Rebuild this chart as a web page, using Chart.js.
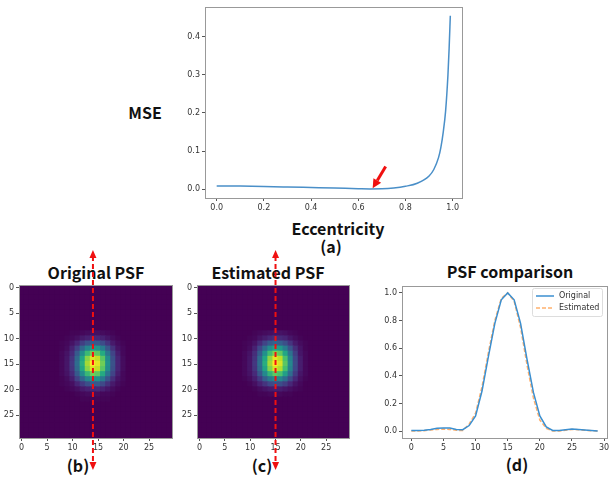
<!DOCTYPE html>
<html>
<head>
<meta charset="utf-8">
<script src="https://cdn.jsdelivr.net/npm/chart.js@4.4.0/dist/chart.umd.min.js"></script>
<style>
body { margin: 0; background: #fff; width: 613px; height: 479px; position: relative; overflow: hidden; font-family: "Noto Sans CJK KR", "Noto Sans", sans-serif; }
canvas { position: absolute; z-index: 1; }
.lbl { position: absolute; transform: translate(-50%, -50%); font-weight: 700; font-size: 16px; color: #111; white-space: nowrap; line-height: 1; z-index: 0; }
</style>
</head>
<body>
<div class="lbl" style="left:145px;top:112px">MSE</div>
<div class="lbl" style="left:338px;top:228px">Eccentricity</div>
<div class="lbl" style="left:331px;top:246px">(a)</div>
<div class="lbl" style="left:96px;top:272px">Original PSF</div>
<div class="lbl" style="left:268px;top:272px">Estimated PSF</div>
<div class="lbl" style="left:510px;top:271px">PSF comparison</div>
<div class="lbl" style="left:78px;top:465px">(b)</div>
<div class="lbl" style="left:262px;top:465px">(c)</div>
<div class="lbl" style="left:517px;top:464px">(d)</div>

<canvas id="chartA" style="left:170px;top:0px" width="300" height="215"></canvas>
<canvas id="chartB" style="left:0px;top:245px" width="185" height="232"></canvas>
<canvas id="chartC" style="left:180px;top:245px" width="180" height="232"></canvas>
<canvas id="chartD" style="left:375px;top:245px" width="238" height="232"></canvas>

<script>
// (a) MSE vs eccentricity
const eccentricity = [0, 0.1, 0.2, 0.3, 0.4, 0.5, 0.6, 0.65, 0.7, 0.75, 0.8, 0.85, 0.9, 0.92, 0.94, 0.95, 0.96, 0.97, 0.98, 0.985, 0.99];
const mse = [0.009, 0.0085, 0.0075, 0.0062, 0.0048, 0.0034, 0.0018, 0.0012, 0.0015, 0.0035, 0.008, 0.016, 0.035, 0.052, 0.083, 0.11, 0.15, 0.205, 0.30, 0.37, 0.455];
const arrowFrom = [0.716, 0.060], arrowTo = [0.661, 0.003];
const eccTicks = [0, 0.2, 0.4, 0.6, 0.8, 1.0];
const mseTicks = [0, 0.1, 0.2, 0.3, 0.4];

// (d) vertical profile through the PSF
const pixelIndex = [0,1,2,3,4,5,6,7,8,9,10,11,12,13,14,15,16,17,18,19,20,21,22,23,24,25,26,27,28,29];
const profileOriginal = [0.005,0.004,0.006,0.012,0.02,0.022,0.022,0.012,0.01,0.04,0.11,0.29,0.54,0.78,0.95,1.0,0.95,0.78,0.52,0.28,0.11,0.03,0.005,0.005,0.01,0.015,0.012,0.008,0.004,0.0];
const profileEstimated = [0.0,0.0,0.003,0.008,0.012,0.015,0.012,0.006,0.004,0.05,0.13,0.32,0.57,0.8,0.96,1.0,0.94,0.75,0.48,0.24,0.08,0.02,0.0,0.0,0.006,0.012,0.01,0.006,0.003,0.0];
const profTicksX = [0, 5, 10, 15, 20, 25, 30];
const profTicksY = [0, 0.2, 0.4, 0.6, 0.8, 1.0];

// (b),(c) 30x30 PSF images, only the central block is non-zero (values in %)
const psfTicks = [0, 5, 10, 15, 20, 25];
const origRow0 = 9, origCol0 = 8;
const psfOriginal = [
  [0,0,1,1,2,3,4,4,3,2,1,0,0],
  [0,1,2,4,7,9,11,11,9,6,3,1,0],
  [1,2,5,10,18,25,29,28,23,15,7,3,1],
  [1,3,9,19,33,46,54,52,42,27,14,5,2],
  [2,5,12,28,48,67,78,75,61,39,20,8,2],
  [2,6,15,34,59,82,95,91,74,48,24,10,3],
  [2,6,16,36,62,86,100,96,78,50,25,10,3],
  [2,6,15,34,59,82,95,91,74,48,24,10,3],
  [2,5,12,28,48,67,78,75,61,39,20,8,2],
  [1,3,8,19,32,45,52,50,41,26,13,5,2],
  [1,2,4,10,17,24,28,27,22,14,7,3,1],
  [0,1,2,4,7,9,11,11,9,6,3,1,0],
  [0,0,0,1,2,3,3,3,2,2,1,0,0],
  [0,0,0,0,1,1,1,1,1,1,0,0,0]
];
const estRow0 = 9, estCol0 = 9;
const psfEstimated = [
  [0,0,1,2,3,4,5,5,4,2,1,0,0],
  [0,1,2,5,8,11,13,12,10,6,3,1,0],
  [1,2,5,12,20,28,32,30,24,15,7,3,1],
  [1,3,9,21,35,49,57,54,42,26,13,5,1],
  [2,5,13,29,50,69,80,75,59,37,18,6,2],
  [2,6,15,35,60,83,96,90,71,44,21,8,2],
  [2,6,16,36,62,86,100,94,74,46,22,8,2],
  [2,6,15,34,58,81,94,88,70,43,21,8,2],
  [2,5,12,27,47,65,75,71,56,35,17,6,2],
  [1,3,8,17,30,41,48,45,36,22,11,4,1],
  [0,1,4,9,15,21,24,23,18,11,5,2,0],
  [0,0,1,3,5,7,8,8,6,4,2,1,0],
  [0,0,0,1,1,2,2,2,1,1,0,0,0]
];

const viridis = ['#440154','#482475','#414487','#355f8d','#2a788e','#21918c','#22a884','#44bf70','#7ad151','#bddf26','#fde725'];
function hex(h) { return [1, 3, 5].map(i => parseInt(h.substr(i, 2), 16)); }
function viridisColor(t) {
  t = Math.max(0, Math.min(1, t)) * 10;
  const i = Math.min(9, Math.floor(t)), f = t - i;
  const a = hex(viridis[i]), b = hex(viridis[i + 1]);
  return 'rgb(' + a.map((v, k) => Math.round(v + (b[k] - v) * f)).join(',') + ')';
}

function heatPoints(rows, r0, c0) {
  const pts = [];
  for (let r = 0; r < 30; r++) {
    for (let c = 0; c < 30; c++) {
      const row = rows[r - r0];
      const v = row && row[c - c0] !== undefined ? row[c - c0] : 0;
      pts.push({ x: c, y: r, v: v });
    }
  }
  return pts;
}

function axis(min, max, tickVals, digits, fit, isY, reverse) {
  return {
    type: 'linear', min: min, max: max, reverse: !!reverse,
    afterBuildTicks: s => { s.ticks = tickVals.map(v => ({ value: v })); },
    afterFit: s => { if (isY) s.width = fit; else s.height = fit; },
    ticks: { font: { family: 'DejaVu Sans', size: 8 }, color: '#333', padding: 2, autoSkip: false, maxRotation: 0,
             callback: v => v.toFixed(digits) },
    grid: { drawOnChartArea: false, drawTicks: true, tickLength: 3, color: '#555' },
    border: { display: true, color: '#999' }
  };
}

const frame = {
  id: 'frame',
  afterDraw(chart) {
    const a = chart.chartArea, c = chart.ctx;
    c.save();
    c.strokeStyle = '#999';
    c.lineWidth = 1;
    c.strokeRect(Math.round(a.left) + 0.5, Math.round(a.top) + 0.5, Math.round(a.right - a.left), Math.round(a.bottom - a.top));
    c.restore();
  }
};

const redArrow = {
  id: 'redArrow',
  afterDraw(chart) {
    const x = chart.scales.x, y = chart.scales.y, c = chart.ctx;
    const x0 = x.getPixelForValue(arrowFrom[0]), y0 = y.getPixelForValue(arrowFrom[1]);
    const x1 = x.getPixelForValue(arrowTo[0]), y1 = y.getPixelForValue(arrowTo[1]);
    const ang = Math.atan2(y1 - y0, x1 - x0);
    const hl = 9, hw = 4.5;
    const bx = x1 - Math.cos(ang) * hl, by = y1 - Math.sin(ang) * hl;
    c.save();
    c.strokeStyle = '#f01010'; c.fillStyle = '#f01010'; c.lineWidth = 3;
    c.beginPath(); c.moveTo(x0, y0); c.lineTo(bx, by); c.stroke();
    c.beginPath();
    c.moveTo(x1, y1);
    c.lineTo(bx + Math.sin(ang) * hw, by - Math.cos(ang) * hw);
    c.lineTo(bx - Math.sin(ang) * hw, by + Math.cos(ang) * hw);
    c.closePath(); c.fill();
    c.restore();
  }
};

const probeLine = {
  id: 'probeLine',
  afterDraw(chart, args, opts) {
    const c = chart.ctx, x = chart.scales.x.getPixelForValue(opts.col);
    const top = opts.top, bottom = opts.bottom;
    c.save();
    c.strokeStyle = '#f01010'; c.fillStyle = '#f01010'; c.lineWidth = 2;
    c.setLineDash([5, 3]);
    c.beginPath(); c.moveTo(x, top + 6); c.lineTo(x, bottom - 6); c.stroke();
    c.setLineDash([]);
    c.beginPath(); c.moveTo(x, top); c.lineTo(x - 3.5, top + 8); c.lineTo(x + 3.5, top + 8); c.closePath(); c.fill();
    c.beginPath(); c.moveTo(x, bottom); c.lineTo(x - 3.5, bottom - 8); c.lineTo(x + 3.5, bottom - 8); c.closePath(); c.fill();
    c.restore();
  }
};

const boxLegend = {
  id: 'boxLegend',
  afterDraw(chart) {
    const a = chart.chartArea, c = chart.ctx;
    const w = 70, h = 28, left = a.right - w - 5, top = a.top + 2;
    c.save();
    c.fillStyle = 'rgba(255,255,255,0.85)';
    c.strokeStyle = '#ddd'; c.lineWidth = 1;
    c.beginPath(); c.roundRect(left + 0.5, top + 0.5, w, h, 2); c.fill(); c.stroke();
    c.font = '8px "DejaVu Sans"'; c.textBaseline = 'middle'; c.fillStyle = '#333';
    chart.data.datasets.forEach((ds, i) => {
      const yy = top + 8 + i * 12;
      c.strokeStyle = ds.borderColor; c.lineWidth = 1.5;
      c.setLineDash(ds.borderDash || []);
      c.beginPath(); c.moveTo(left + 4, yy); c.lineTo(left + 22, yy); c.stroke();
      c.setLineDash([]);
      c.fillText(ds.label, left + 27, yy);
    });
    c.restore();
  }
};

const common = { responsive: false, animation: false, events: [], plugins: { legend: { display: false }, tooltip: { enabled: false } } };

new Chart(document.getElementById('chartA'), {
  type: 'line',
  data: { datasets: [{
    data: eccentricity.map((e, i) => ({ x: e, y: mse[i] })),
    borderColor: '#4a8fc8', borderWidth: 1.5, pointRadius: 0, cubicInterpolationMode: 'monotone', fill: false
  }] },
  options: Object.assign({}, common, {
    layout: { padding: { left: 0, top: 7, right: 8, bottom: 1 } },
    scales: { x: axis(-0.0495, 1.0395, eccTicks, 1, 16, false), y: axis(-0.0227, 0.4777, mseTicks, 1, 35, true) }
  }),
  plugins: [frame, redArrow]
});

function heatChart(id, rows, r0, c0, col, padRight, yWidth) {
  new Chart(document.getElementById(id), {
    type: 'scatter',
    data: { datasets: [{
      data: heatPoints(rows, r0, c0),
      pointStyle: 'rect', borderWidth: 0,
      backgroundColor: ctx => viridisColor(ctx.raw ? ctx.raw.v / 100 : 0),
      pointRadius: ctx => {
        const a = ctx.chart.chartArea;
        const cell = a ? (a.right - a.left) / 30 : 5;
        return cell / Math.SQRT2 + 0.8;
      }
    }] },
    options: Object.assign({}, common, {
      layout: { padding: { left: 0, top: 40, right: padRight, bottom: 23 } },
      plugins: Object.assign({}, common.plugins, { probeLine: { col: col, top: 5, bottom: 225 } }),
      scales: { x: axis(-0.5, 29.5, psfTicks, 0, 16, false), y: axis(-0.5, 29.5, psfTicks, 0, yWidth, true, true) }
    }),
    plugins: [frame, probeLine]
  });
}
heatChart('chartB', psfOriginal, origRow0, origCol0, 14, 13, 19);
heatChart('chartC', psfEstimated, estRow0, estCol0, 15, 11, 17);

new Chart(document.getElementById('chartD'), {
  type: 'line',
  data: { datasets: [
    { label: 'Original', data: pixelIndex.map((p, i) => ({ x: p, y: profileOriginal[i] })),
      borderColor: '#3b8fd0', borderWidth: 1.5, pointRadius: 0, tension: 0, fill: false },
    { label: 'Estimated', data: pixelIndex.map((p, i) => ({ x: p, y: profileEstimated[i] })),
      borderColor: 'rgba(255,150,60,0.75)', borderWidth: 1.5, borderDash: [4, 2], pointRadius: 0, tension: 0, fill: false }
  ] },
  options: Object.assign({}, common, {
    layout: { padding: { left: 0, top: 41, right: 6, bottom: 23 } },
    scales: { x: axis(-1.45, 30.45, profTicksX, 0, 16, false), y: axis(-0.05, 1.05, profTicksY, 1, 27, true) }
  }),
  plugins: [frame, boxLegend]
});
</script>
</body>
</html>
